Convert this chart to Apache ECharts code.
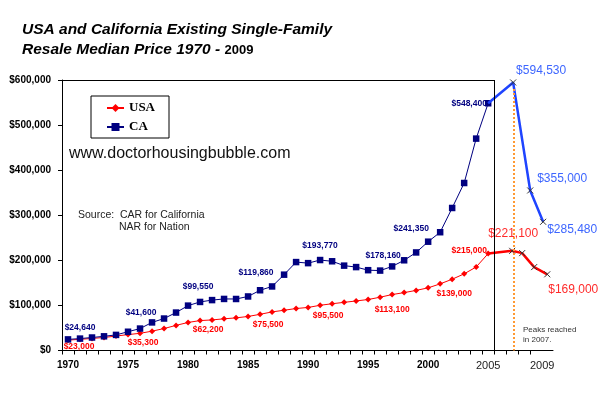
<!DOCTYPE html>
<html>
<head>
<meta charset="utf-8">
<script src="https://cdn.jsdelivr.net/npm/echarts@6/dist/echarts.min.js"></script>
<style>
html,body{margin:0;padding:0;background:#fff;}
#chart{width:600px;height:394px;}
</style>
</head>
<body>
<div id="chart"></div>
<script>
// ---------- DATA ----------
const years = [1970,1971,1972,1973,1974,1975,1976,1977,1978,1979,1980,1981,1982,1983,1984,1985,1986,1987,1988,1989,1990,1991,1992,1993,1994,1995,1996,1997,1998,1999,2000,2001,2002,2003,2004,2005];
const caValues = [24640,26410,28810,31460,34610,41600,48640,62290,70890,84150,99550,107710,111800,114370,114260,119860,133640,142060,168200,196120,193770,200660,197900,188240,185010,178160,177270,186490,200100,217510,241350,262350,316130,371520,470000,548400];
const usaValues = [23000,24800,26700,28900,32000,35300,38100,42900,48700,55700,62200,66400,67800,70300,72400,75500,80300,85600,89300,93100,95500,100300,103700,106800,109900,113100,118200,124100,128400,133300,139000,147800,158100,170000,185200,215000];
const caLabelYears = [1970,1975,1980,1985,1990,1995,2000,2005];
const usaLabelYears = [1970,1975,1980,1985,1990,1995,2000,2005];
// hand-drawn extension after 2005
const caExtYears = [2005,2007.08,2008.5,2009.58];
const caExtValues = [548400,594530,355000,285480];
const usaExtYears = [2005,2007,2007.83,2008.83,2009.92];
const usaExtValues = [215000,221100,216000,185000,169000];
const usaExtLabeled = [false,true,false,false,true];
const caExtLabeled = [false,true,true,true];
const xTickLabels = ['1970','1975','1980','1985','1990','1995','2000','2005','2009'];
const yTicks = [0,100000,200000,300000,400000,500000,600000];
const peakYear = 2007.1;

// ---------- LAYOUT / STYLE ----------
const SANS = '"Liberation Sans", Arial, sans-serif';
const caLabelOffset = {1970:[12,-12],1975:[13,-19],1980:[10,-19],1985:[8,-24],1990:[12,-17],1995:[15,-15],2000:[-17,-13],2005:[-19,0]};
const usaLabelOffset = {1970:[11,7],1975:[15,8],1980:[20,7],1985:[20,8],1990:[20,8],1995:[24,10],2000:[26,6],2005:[-19,-3]};
const caExtOffset = [null,[28,-12],[32,-12],[29,8]];
const usaExtOffset = [null,[1,-17],null,null,[26,15]];
const xSym = 'path://M0,0L10,10M10,0L0,10';

function money(v){ return '$' + Math.round(v).toLocaleString('en-US'); }

function mainData(vals, labelYears, offsets, color){
  return years.map((y,i)=>{
    const item = {value:[y, vals[i]]};
    if (labelYears.indexOf(y) >= 0) {
      item.label = {show:true, position:'inside', offset:offsets[y], formatter: p=>money(p.value[1]),
        color:color, fontSize:8.5, fontWeight:'bold', fontFamily:SANS};
    }
    return item;
  });
}
function extData(xs, vals, labeled, offsets, color){
  return xs.map((x,i)=>{
    const item = {value:[x, vals[i]]};
    if (i === 0) item.symbol = 'none';
    if (labeled[i]) {
      item.label = {show:true, position:'inside', offset:offsets[i], formatter: p=>money(p.value[1]),
        color:color, fontSize:12, fontFamily:SANS};
    }
    return item;
  });
}

const tickVals = years.concat([2006,2007,2008,2009]).map(y=>y-0.5);
const labelVals = [1970,1975,1980,1985,1990,1995,2000,2005,2009.5];

const option = {
  animation:false,
  backgroundColor:'#fff',
  title:{
    left:22, top:20, padding:0,
    text:'{a|USA and California Existing Single-Family}\n{a|Resale Median Price 1970 - }{b|2009}',
    textStyle:{rich:{
      a:{fontFamily:SANS, fontSize:15.5, fontWeight:'bold', fontStyle:'italic', color:'#000', lineHeight:20},
      b:{fontFamily:SANS, fontSize:13, color:'#000', lineHeight:20}
    }}
  },
  legend:{
    data:['USA','CA'], orient:'vertical', left:91, top:96,
    padding:[5,14,4,15], borderColor:'#000', borderWidth:1, itemGap:5,
    itemWidth:17, itemHeight:10,
    textStyle:{fontFamily:'"Liberation Serif", "Times New Roman", serif', fontWeight:'bold', fontSize:13, color:'#000', lineHeight:14}
  },
  grid:{left:62, top:80, right:47, bottom:43.5},
  xAxis:{
    type:'value', min:1969.5, max:2010.4,
    axisLine:{show:true, lineStyle:{color:'#000', width:1}},
    axisTick:{show:true, length:4, lineStyle:{color:'#000'}, customValues:tickVals},
    splitLine:{show:false},
    axisLabel:{
      customValues:labelVals, margin:10,
      formatter:function(v){
        const idx = labelVals.indexOf(v);
        const t = xTickLabels[idx];
        return (v >= 2005) ? '{r|'+t+'}' : '{b|'+t+'}';
      },
      rich:{
        b:{fontFamily:SANS, fontSize:10, fontWeight:'bold', color:'#000'},
        r:{fontFamily:SANS, fontSize:11, color:'#222'}
      }
    }
  },
  yAxis:{
    type:'value', min:0, max:600000, interval:100000,
    axisLine:{show:true, lineStyle:{color:'#000'}},
    axisTick:{show:true, length:4, lineStyle:{color:'#000'}},
    splitLine:{show:false},
    axisLabel:{formatter:v=>money(v), fontFamily:SANS, fontSize:10, fontWeight:'bold', color:'#000', margin:11}
  },
  graphic:[
    {type:'text', left:69, top:146, style:{text:'www.doctorhousingbubble.com', font:'16px '+SANS, fill:'#111'}},
    {type:'text', left:78, top:210, style:{text:'Source:  CAR for California', font:'10.5px '+SANS, fill:'#222'}},
    {type:'text', left:119, top:222, style:{text:'NAR for Nation', font:'10.5px '+SANS, fill:'#222'}},
    {type:'text', left:523, top:325, style:{text:'Peaks reached\nin 2007.', font:'8px '+SANS, fill:'#333', lineHeight:10}}
  ],
  series:[
    {
      name:'USA', type:'line', data:mainData(usaValues, usaLabelYears, usaLabelOffset, '#ff0000'),
      symbol:'diamond', symbolSize:6, z:3,
      itemStyle:{color:'#ff0000'}, lineStyle:{color:'#ff0000', width:1}
    },
    {
      name:'CA', type:'line', data:mainData(caValues, caLabelYears, caLabelOffset, '#000080'),
      symbol:'rect', symbolSize:6.5, z:3,
      itemStyle:{color:'#000080'}, lineStyle:{color:'#000080', width:1},
      markLine:{
        silent:true, symbol:'none', label:{show:false},
        lineStyle:{color:'#000', width:1, type:'solid'},
        data:[
          [{coord:[1969.5,600000]},{coord:[2005.5,600000]}],
          [{coord:[2005.5,600000]},{coord:[2005.5,0]}]
        ]
      }
    },
    {
      name:'USA ext', type:'line', data:extData(usaExtYears, usaExtValues, usaExtLabeled, usaExtOffset, '#ff2b2b'),
      symbol:xSym, symbolSize:6, z:4,
      itemStyle:{color:'transparent', borderColor:'#333', borderWidth:1},
      lineStyle:{color:'#ff0000', width:2.5},
      markLine:{
        silent:true, symbol:'none', label:{show:false},
        lineStyle:{color:'#ff9933', width:2, type:'dotted'},
        data:[[{coord:[peakYear,580000]},{coord:[peakYear,0]}]]
      }
    },
    {
      name:'CA ext', type:'line', data:extData(caExtYears, caExtValues, caExtLabeled, caExtOffset, '#3d66ff'),
      symbol:xSym, symbolSize:6, z:4,
      itemStyle:{color:'transparent', borderColor:'#333', borderWidth:1},
      lineStyle:{color:'#1f44ff', width:2.5}
    }
  ]
};
const chart = echarts.init(document.getElementById('chart'), null, {renderer:'canvas'});
chart.setOption(option);
</script>
</body>
</html>
